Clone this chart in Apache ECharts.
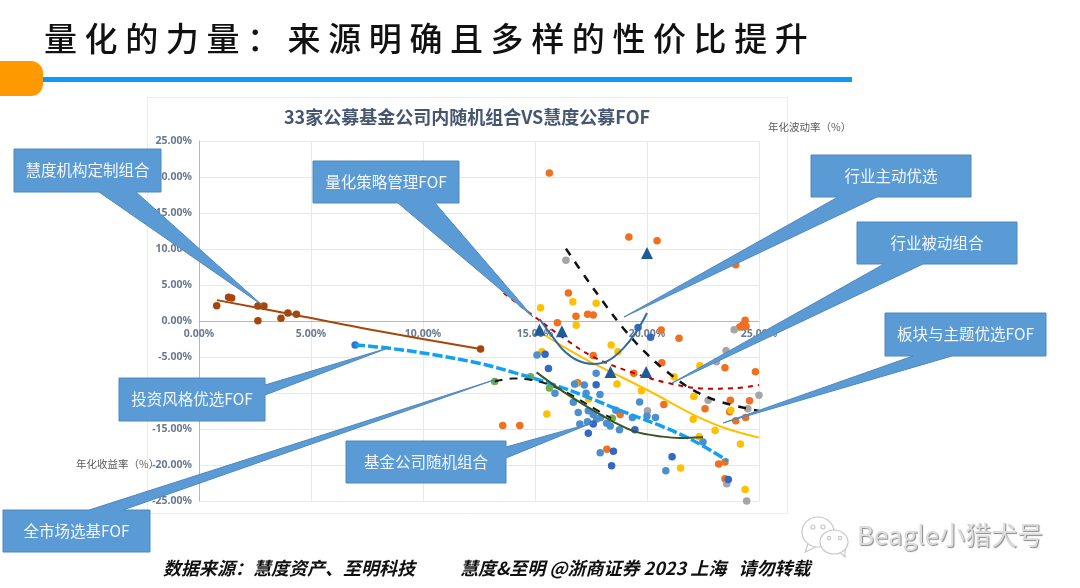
<!DOCTYPE html>
<html>
<head>
<meta charset="utf-8">
<style>
html,body{margin:0;padding:0;background:#fff;width:1080px;height:588px;overflow:hidden}
#chart{position:absolute;left:0;top:0;width:1080px;height:588px}
#heading{position:absolute;left:44px;top:13px;font:500 33px "Noto Sans CJK SC",sans-serif;letter-spacing:7.6px;color:#111;white-space:nowrap;z-index:5;line-height:48px}
</style>
<script src="https://cdn.jsdelivr.net/npm/echarts@6/dist/echarts.min.js"></script>
</head>
<body>
<div id="heading">量化的力量&#xFF1A;来源明确且多样的性价比提升</div>
<div id="chart"></div>
<script>
const chartTitle = '33家公募基金公司内随机组合VS慧度公募FOF';
const footerLeft = '数据来源\uFF1A慧度资产、至明科技';
const footerRight = '慧度&至明 @浙商证券 2023 上海   请勿转载';
const xAxisName = '年化波动率\uFF08%\uFF09';
const yAxisName = '年化收益率\uFF08%\uFF09';
const watermark = 'Beagle小猎犬号';

const orangePoints = [[15.64,20.56],[19.19,11.67],[20.45,11.16],[23.96,7.82],[16.49,3.89],[16.0,-0.23],[16.83,0.65],[17.35,0.93],[17.6,0.83],[20.63,-1.25],[21.43,-2.4],[24.38,0.09],[24.14,-0.83],[24.26,-0.6],[24.42,-0.74],[17.6,-4.8],[20.66,-5.8],[19.41,-7.27],[16.9,-8.56],[23.48,-6.5],[24.84,-7.04],[23.72,-11.0],[24.58,-11.06],[23.69,-12.6],[22.59,-12.2],[20.75,-11.6],[18.8,-13.0],[23.96,-13.84],[24.4,-13.4],[13.56,-14.5],[14.32,-14.5],[18.21,-17.8],[23.2,-19.86],[23.48,-19.6],[23.48,-21.9]];
const yellowPoints = [[15.25,1.85],[16.69,2.69],[17.73,2.45],[16.84,-0.6],[18.4,-3.33],[18.7,-4.26],[15.31,-4.26],[22.36,-6.2],[21.21,-7.73],[18.66,-8.75],[16.81,-8.75],[19.75,-9.68],[22.09,-10.5],[23.74,-12.4],[22.06,-13.66],[23.04,-15.2],[22.33,-16.06],[24.17,-17.1],[21.5,-20.4],[24.38,-23.4],[15.53,-12.9],[17.39,-10.83]];
const grayPoints = [[16.38,8.43],[23.89,-1.2],[23.53,-4.12],[23.1,-5.65],[22.73,-11.0],[24.5,-12.2],[25.0,-10.3],[20.02,-12.45],[23.56,-22.6],[24.45,-25.0]];
const lightBluePoints = [[15.09,-4.72],[17.73,-7.27],[16.77,-8.75],[17.2,-8.9],[17.28,-10.05],[17.9,-10.2],[15.89,-10.05],[16.71,-11.3],[16.93,-12.7],[17.38,-12.45],[17.6,-13.0],[17.75,-13.6],[17.93,-13.4],[18.61,-12.4],[17.0,-14.3],[17.34,-14.0],[18.2,-14.2],[18.36,-14.6],[18.77,-15.1],[19.67,-11.25],[19.35,-13.4],[20.0,-13.2],[20.38,-13.4],[22.5,-16.8],[17.91,-18.3],[20.84,-20.8]];
const darkBluePoints = [[19.6,-0.9],[20.16,-2.27],[15.45,-4.63],[15.6,-6.6],[17.73,-8.84],[17.6,-14.3],[17.38,-15.6],[19.46,-15.1],[18.5,-18.1],[18.42,-20.1],[21.12,-18.85],[23.63,-22.0]];
const greenPoints = [[13.2,-8.4],[14.8,-7.73],[15.64,-9.3],[18.45,-13.5]];
const brownPoints = [[0.79,2.13],[1.32,3.29],[1.46,3.19],[2.63,2.08],[2.9,2.08],[2.63,0.05],[3.66,0.37],[3.97,1.11],[4.35,0.93],[12.57,-3.89]];
const trianglePoints = [[15.2,-1.2],[16.2,-1.44],[20.0,9.44],[18.37,-7.1],[19.96,-7.1]];
const styleFundPoints = [[6.97,-3.33]];

const brownTrend = [[0.8,2.9],[4.35,0.8],[8,-1.4],[12.57,-3.9]];
const styleTrend = [[6.97,-3.33],[8.53,-3.8],[10.5,-4.7],[12.55,-5.9],[14.18,-7.27],[15.89,-8.9],[17.45,-10.7],[18.94,-12.6],[20.72,-14.7],[22.06,-16.6],[23.62,-19.45]];
const marketTrend = [[13.2,-8.4],[14.0,-8.0],[14.8,-8.15],[15.67,-8.9],[16.57,-10.2],[17.45,-11.8],[18.4,-13.5]];
const sectorTrend = [[16.38,10.05],[17.27,6.0],[18.08,2.5],[18.94,-1.0],[19.87,-4.2],[20.87,-7.0],[22.06,-9.6],[23.25,-11.2],[25.0,-12.5]];
const quantTrend = [[13.6,3.9],[15.15,0.2],[16.3,-2.4],[17.6,-5.0],[19.38,-7.2],[21.0,-8.66],[22.65,-9.4],[23.84,-9.35],[25.0,-8.9]];
const passiveTrend = [[15.3,-1.7],[16.4,-3.8],[17.6,-5.9],[18.8,-7.7],[20.27,-10.0],[22.06,-13.0],[23.5,-14.9],[25.0,-16.2]];
const activeTrend = [[15.2,0.28],[15.74,-2.0],[16.26,-4.03],[16.86,-5.42],[17.6,-5.97],[18.27,-5.51],[18.94,-3.8],[19.53,-1.48],[20.0,1.1]];
const randomTrend = [[15.07,-7.13],[16.26,-9.8],[17.45,-12.13],[18.5,-14.0],[19.5,-15.4],[20.7,-16.06],[21.46,-16.25],[22.5,-16.15]];

const callouts = [
  {text:'慧度机构定制组合', box:[14,149,147,43], tail:[[99,192],[262,305],[136,192]]},
  {text:'量化策略管理FOF', box:[313,161,146,42], tail:[[398,203],[533,317],[435,203]]},
  {text:'行业主动优选', box:[811,155,160,42], tail:[[838,197],[624,317],[877,197]]},
  {text:'行业被动组合', box:[857,222,160,42], tail:[[884,264],[672,383],[923,264]]},
  {text:'板块与主题优选FOF', box:[885,313,161,43], tail:[[913,356],[723,423],[952,356]]},
  {text:'投资风格优选FOF', box:[119,378,146,43], tail:[[265,385],[388,348],[265,395]]},
  {text:'全市场选基FOF', box:[3,510,147,42], tail:[[89,510],[497,379],[123,510]]},
  {text:'基金公司随机组合', box:[346,441,160,42], tail:[[506,447],[592,423],[506,458]]}
];

const chart = echarts.init(document.getElementById('chart'), null, {renderer:'canvas'});
const tickFont = {color:'#6a7890', fontSize:10.5, fontWeight:'bold', fontFamily:'"Noto Sans","Noto Sans CJK SC",sans-serif'};
const dots = (name, data, color) => ({name, type:'scatter', data, symbolSize:7.5, clip:false, z:3, itemStyle:{color, opacity:1}});
const trend = (name, data, color, width, type) => ({name, type:'line', data, smooth:0.35, showSymbol:false, clip:false, z:4, lineStyle:{color, width, type}});

const calloutGraphics = [];
callouts.forEach(c => {
  const [x,y,w,h] = c.box;
  const t = c.tail;
  let pts;
  if (t[0][0] === t[2][0]) {
    pts = [[x,y],[x+w,y],t[0],t[1],t[2],[x+w,y+h],[x,y+h]];
  } else if (t[0][1] === y) {
    pts = [[x,y],t[0],t[1],t[2],[x+w,y],[x+w,y+h],[x,y+h]];
  } else {
    pts = [[x,y],[x+w,y],[x+w,y+h],t[2],t[1],t[0],[x,y+h]];
  }
  calloutGraphics.push({type:'polygon', z:20, shape:{points:pts}, style:{fill:'#5B9BD5', stroke:'#4F88BD', lineWidth:1}, silent:true});
  calloutGraphics.push({type:'text', z:21, x:x+w/2, y:y+h/2, style:{text:c.text, fill:'#f2f6fb', fontSize:15.5, fontFamily:'"Noto Sans CJK SC",sans-serif', align:'center', verticalAlign:'middle'}, silent:true});
});

const bubble = {fill:'#fff', stroke:'#c8c8c8', lineWidth:1.2};
chart.setOption({
  animation:false,
  backgroundColor:'transparent',
  title:{text:chartTitle, left:462, top:103, textAlign:'center', textStyle:{color:'#46566e', fontSize:18, fontWeight:'bold', fontFamily:'"Noto Sans CJK SC",sans-serif'}},
  grid:{left:199, right:321, top:141, bottom:87},
  xAxis:{type:'value', min:0, max:25, interval:5, position:'bottom', offset:-180,
    axisLine:{onZero:false, lineStyle:{color:'#aeb8ca', width:1}}, axisTick:{show:false},
    splitLine:{show:true, lineStyle:{color:'#e5e8ef', width:1}},
    axisLabel:Object.assign({margin:8, hideOverlap:false, formatter:v=>v.toFixed(2)+'%'}, tickFont)},
  yAxis:{type:'value', min:-25, max:25, interval:5,
    axisLine:{onZero:false, show:true, lineStyle:{color:'#aeb8ca', width:1}}, axisTick:{show:false},
    splitLine:{show:true, lineStyle:{color:'#e5e8ef', width:1}},
    axisLabel:Object.assign({margin:7, formatter:v=>v.toFixed(2)+'%'}, tickFont)},
  series:[
    dots('橙色组合', orangePoints, '#F0701F'),
    dots('黄色组合', yellowPoints, '#FFC000'),
    dots('灰色组合', grayPoints, '#A5A5A5'),
    dots('基金公司随机组合', lightBluePoints, '#4C8FCF'),
    dots('深蓝组合', darkBluePoints, '#3568C2'),
    dots('全市场选基FOF', greenPoints, '#70AD47'),
    dots('慧度机构定制组合', brownPoints, '#A5460A'),
    dots('投资风格优选FOF', styleFundPoints, '#2E75D0'),
    {name:'慧度FOF', type:'scatter', data:trianglePoints, symbol:'triangle', symbolSize:12, clip:false, z:5, itemStyle:{color:'#1F5C96', opacity:1}},
    trend('机构定制趋势', brownTrend, '#A5460A', 2, 'solid'),
    trend('投资风格趋势', styleTrend, '#12A0F2', 3.5, [10,3]),
    trend('全市场趋势', marketTrend, '#1a1a1a', 2, [8,7]),
    trend('板块趋势', sectorTrend, '#111', 2.5, [8,8]),
    trend('量化趋势', quantTrend, '#C00000', 2, [5,5]),
    trend('行业被动趋势', passiveTrend, '#FFC000', 2, 'solid'),
    trend('行业主动趋势', activeTrend, '#2E6C9E', 2, 'solid'),
    trend('随机组合趋势', randomTrend, '#375623', 2, 'solid')
  ],
  graphic:{elements:[
    {type:'rect', z:-1, shape:{x:147.5,y:97.5,width:640,height:416}, style:{fill:'#fff', stroke:'#ececec', lineWidth:1}, silent:true},
    {type:'rect', z:1, shape:{x:43,y:77,width:809,height:5}, style:{fill:'#0B9BF7'}, silent:true},
    {type:'rect', z:2, shape:{x:0,y:61,width:43,height:35,r:[0,12,12,0]}, style:{fill:'#FF9900'}, silent:true},
    {type:'text', z:3, x:768, y:122, style:{text:xAxisName, fill:'#595959', fontSize:10.5, fontFamily:'"Noto Sans CJK SC",sans-serif'}, silent:true},
    {type:'text', z:3, x:76, y:459, style:{text:yAxisName, fill:'#595959', fontSize:10.5, fontFamily:'"Noto Sans CJK SC",sans-serif'}, silent:true},
    {type:'text', z:30, x:163, y:559, style:{text:footerLeft, fill:'#111', fontSize:18, fontStyle:'italic', fontWeight:'bold', fontFamily:'"Noto Sans CJK SC",sans-serif'}, silent:true},
    {type:'text', z:30, x:460, y:559, style:{text:footerRight, fill:'#111', fontSize:18, fontStyle:'italic', fontWeight:'bold', fontFamily:'"Noto Sans CJK SC",sans-serif'}, silent:true},
    {type:'polyline', z:30, shape:{points:[[808,544],[805,552],[816,547]]}, style:{fill:'#fff', stroke:'#c8c8c8', lineWidth:1.2}, silent:true},
    {type:'ellipse', z:30, shape:{cx:818,cy:532,rx:16,ry:15}, style:bubble, silent:true},
    {type:'circle', z:30, shape:{cx:813,cy:527,r:2}, style:bubble, silent:true},
    {type:'circle', z:30, shape:{cx:823,cy:527,r:2}, style:bubble, silent:true},
    {type:'polyline', z:31, shape:{points:[[840,552],[845,557],[845,549]]}, style:{fill:'#fff', stroke:'#c8c8c8', lineWidth:1.2}, silent:true},
    {type:'ellipse', z:31, shape:{cx:834,cy:542,rx:14,ry:12}, style:bubble, silent:true},
    {type:'circle', z:31, shape:{cx:829,cy:538,r:1.6}, style:bubble, silent:true},
    {type:'circle', z:31, shape:{cx:840,cy:538,r:1.6}, style:bubble, silent:true},
    {type:'text', z:31, x:857, y:522, style:{text:watermark, fill:'#dcdcdc', fontSize:26, fontFamily:'"Noto Sans CJK SC",sans-serif', textShadowColor:'#8a8a8a', textShadowBlur:1, textShadowOffsetX:1, textShadowOffsetY:1}, silent:true},
    ...calloutGraphics
  ]}
});
</script>
</body>
</html>
